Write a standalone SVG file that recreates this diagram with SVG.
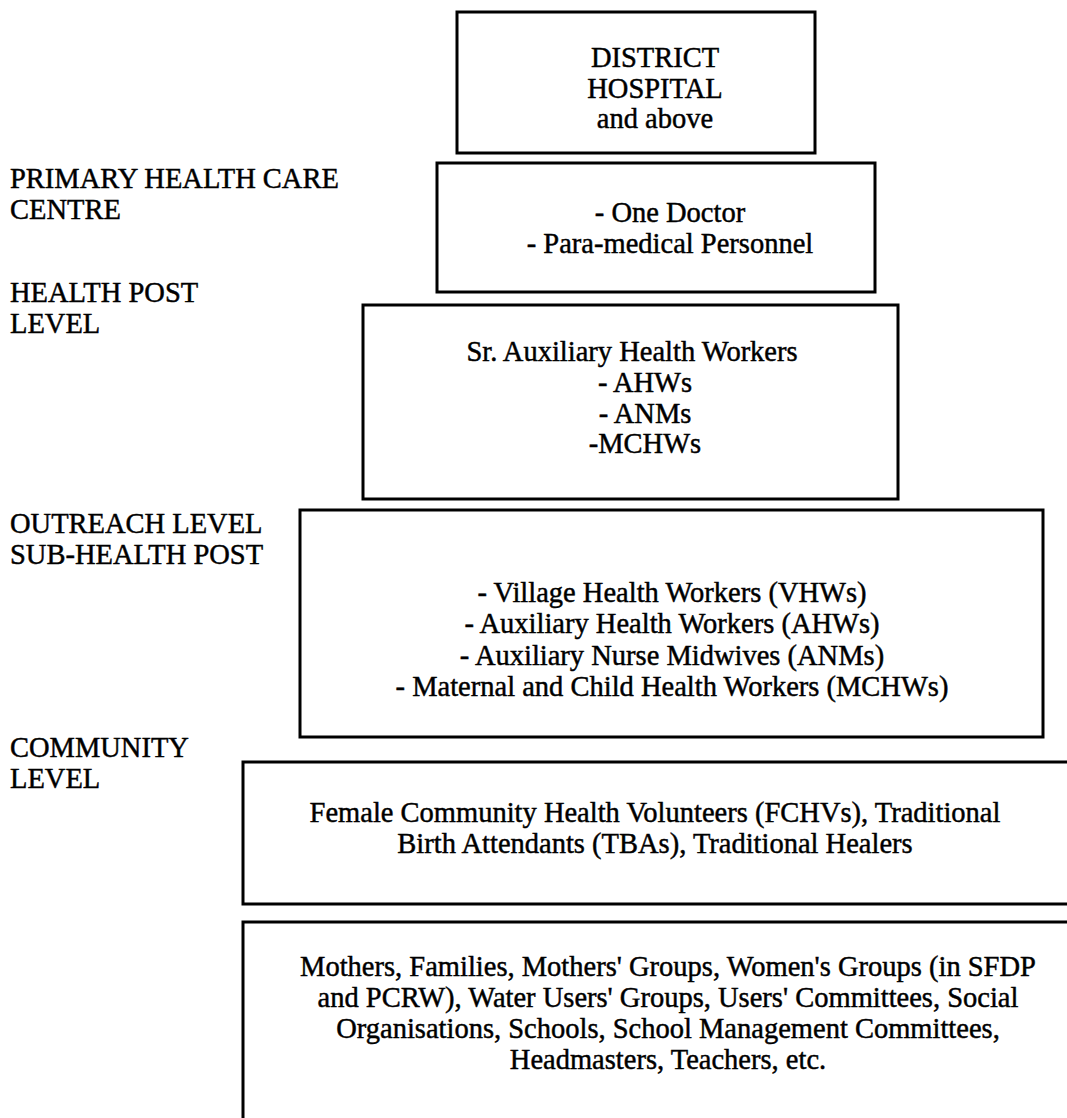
<svg xmlns="http://www.w3.org/2000/svg" width="1067" height="1118" viewBox="0 0 1067 1118">
<style>
.box{fill:none;stroke:#000;stroke-width:3}
text{font-family:'Liberation Serif','Times New Roman',Times,serif;font-size:28.5px;fill:#000;stroke:#000;stroke-width:0.45}
.c{text-anchor:middle}
</style>
<rect width="1067" height="1118" fill="#fff"/>
<g id="labels">
<text x="10" y="188">PRIMARY HEALTH CARE</text>
<text x="10" y="219">CENTRE</text>
<text x="10" y="302">HEALTH POST</text>
<text x="10" y="333">LEVEL</text>
<text x="10" y="533">OUTREACH LEVEL</text>
<text x="10" y="564">SUB-HEALTH POST</text>
<text x="10" y="757">COMMUNITY</text>
<text x="10" y="788">LEVEL</text>
</g>
<g id="district">
<rect class="box" x="457" y="12" width="358" height="141"/>
<text class="c" x="655" y="67">DISTRICT</text>
<text class="c" x="655" y="98">HOSPITAL</text>
<text class="c" x="655" y="128">and above</text>
</g>
<g id="phc">
<rect class="box" x="437" y="163" width="438" height="129"/>
<text class="c" x="670" y="222">- One Doctor</text>
<text class="c" x="670" y="253">- Para-medical Personnel</text>
</g>
<g id="healthpost">
<rect class="box" x="363" y="305" width="535" height="194"/>
<text class="c" x="632" y="361">Sr. Auxiliary Health Workers</text>
<text class="c" x="645" y="392">- AHWs</text>
<text class="c" x="645" y="423">- ANMs</text>
<text class="c" x="645" y="453">-MCHWs</text>
</g>
<g id="outreach">
<rect class="box" x="300" y="510" width="743" height="227"/>
<text class="c" x="672" y="602">- Village Health Workers (VHWs)</text>
<text class="c" x="672" y="633">- Auxiliary Health Workers (AHWs)</text>
<text class="c" x="672" y="665">- Auxiliary Nurse Midwives (ANMs)</text>
<text class="c" x="672" y="696">- Maternal and Child Health Workers (MCHWs)</text>
</g>
<g id="community">
<path class="box" d="M1067,762 H243 V904 H1067"/>
<text class="c" x="655" y="822">Female Community Health Volunteers (FCHVs), Traditional</text>
<text class="c" x="655" y="853">Birth Attendants (TBAs), Traditional Healers</text>
</g>
<g id="grassroots">
<path class="box" d="M1067,922 H243 V1118"/>
<text class="c" x="668" y="976">Mothers, Families, Mothers' Groups, Women's Groups (in SFDP</text>
<text class="c" x="668" y="1007">and PCRW), Water Users' Groups, Users' Committees, Social</text>
<text class="c" x="668" y="1038">Organisations, Schools, School Management Committees,</text>
<text class="c" x="668" y="1069">Headmasters, Teachers, etc.</text>
</g>
<g id="connectors"></g>
</svg>
